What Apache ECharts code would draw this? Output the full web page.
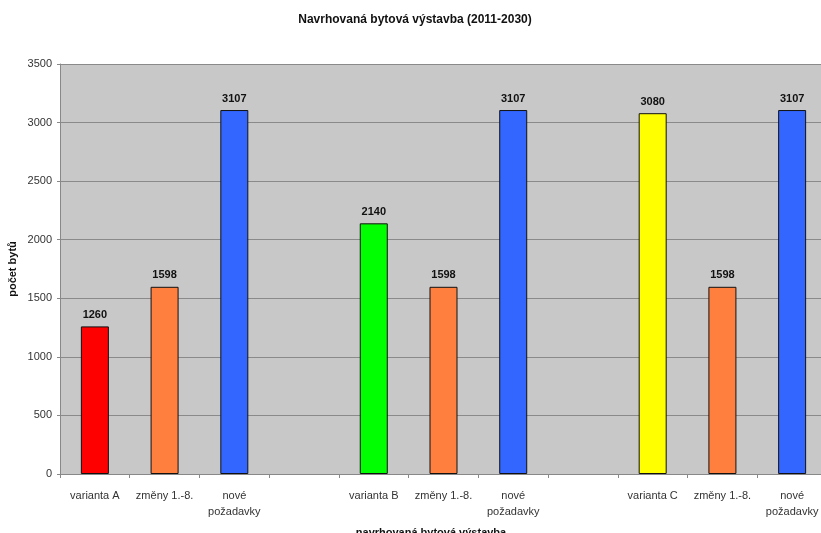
<!DOCTYPE html>
<html><head><meta charset="utf-8">
<script src="https://cdn.jsdelivr.net/npm/echarts@6/dist/echarts.min.js"></script>
<style>html,body{margin:0;padding:0;background:#fff}#c{width:821px;height:533px}</style>
</head><body><div id="c"></div>
<script>
const categories = ['varianta A','změny 1.-8.','nové\npožadavky','','varianta B','změny 1.-8.','nové\npožadavky','','varianta C','změny 1.-8.','nové\npožadavky'];
const values = [1260,1598,3107,null,2140,1598,3107,null,3080,1598,3107];
const barColors = ['#FF0000','#FF7F3F','#3366FF',null,'#00FF00','#FF7F3F','#3366FF',null,'#FFFF00','#FF7F3F','#3366FF'];
const yTicks = [0,500,1000,1500,2000,2500,3000,3500];

const chart = echarts.init(document.getElementById('c'));
chart.setOption({
  animation:false,
  backgroundColor:'#fff',
  title:{text:'Navrhovaná bytová výstavba (2011-2030)',left:410,top:9,textAlign:'center',
    textStyle:{fontFamily:'Liberation Sans',fontSize:12,fontWeight:'bold',color:'#111'}},
  grid:{left:60,top:64,width:767,height:410,backgroundColor:'#C8C8C8',show:true,borderWidth:0,
    outerBoundsMode:'none',containLabel:false},
  xAxis:{type:'category',data:categories,
    name:'navrhovaná bytová výstavba',nameLocation:'middle',nameGap:53,nameMoveOverlap:false,
    nameTextStyle:{fontFamily:'Liberation Sans',fontSize:11,fontWeight:'bold',color:'#111',padding:[0,25,0,0]},
    axisLine:{lineStyle:{color:'#888',width:1}},
    axisTick:{show:true,length:4,lineStyle:{color:'#888'}},
    axisLabel:{interval:0,fontFamily:'Liberation Sans',fontSize:11,color:'#333',margin:14,lineHeight:16}},
  yAxis:{type:'value',min:0,max:3500,interval:500,
    name:'počet bytů',nameLocation:'middle',nameGap:42,nameMoveOverlap:false,
    nameTextStyle:{fontFamily:'Liberation Sans',fontSize:11,fontWeight:'bold',color:'#111'},
    axisLine:{show:true,lineStyle:{color:'#888'}},
    axisTick:{show:true,length:3,lineStyle:{color:'#888'}},
    axisLabel:{fontFamily:'Liberation Sans',fontSize:11,color:'#333',margin:8,
      formatter:v=>yTicks.includes(v)?String(v):''},
    splitLine:{lineStyle:{color:'#8a8a8a',width:1}}},
  series:[{type:'bar',barWidth:28,
    data:values.map((v,i)=>v===null?null:{value:v,itemStyle:{color:barColors[i]}}),
    itemStyle:{borderColor:'#111',borderWidth:1},
    label:{show:true,position:'top',distance:6,fontFamily:'Liberation Sans',fontSize:11,fontWeight:'bold',color:'#111'}}]
});
</script></body></html>
